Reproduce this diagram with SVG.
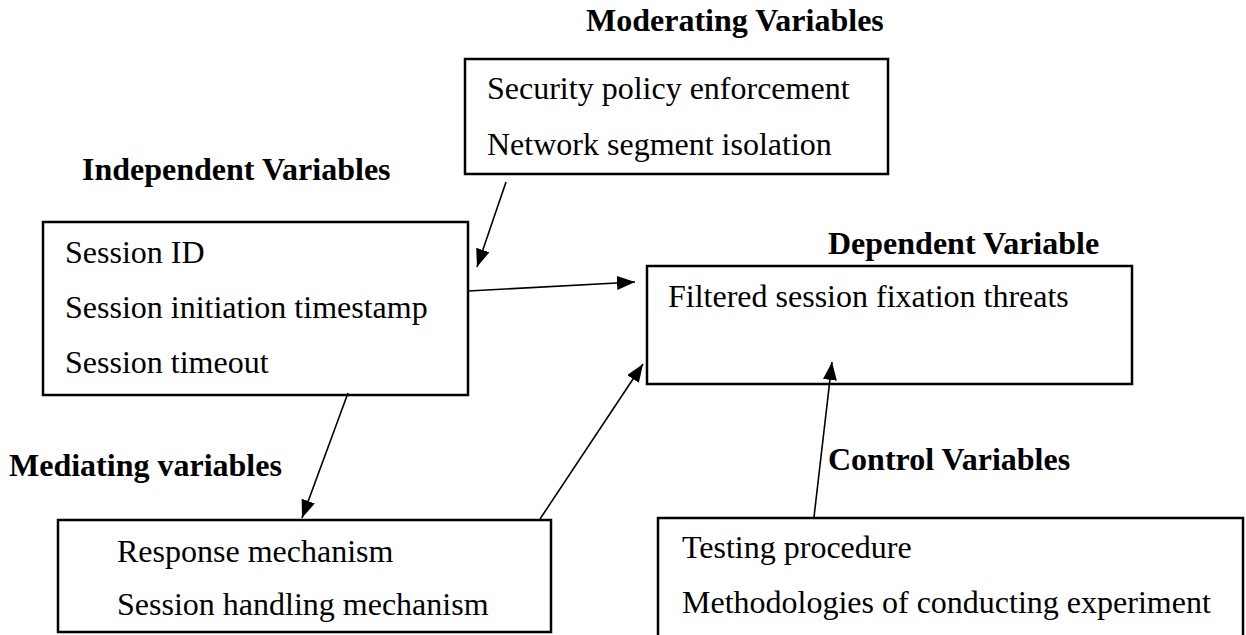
<svg xmlns="http://www.w3.org/2000/svg" width="1246" height="635" viewBox="0 0 1246 635">
  <style>
    .box { fill: #ffffff; stroke: #000000; stroke-width: 2.5; }
    .title { font-family: "Liberation Serif", "Times New Roman", serif; font-weight: bold; font-size: 32px; fill: #000000; }
    .item { font-family: "Liberation Serif", "Times New Roman", serif; font-size: 32px; fill: #000000; }
    .link { stroke: #000000; stroke-width: 1.6; fill: none; marker-end: url(#head); }
  </style>
  <defs>
    <marker id="head" viewBox="0 0 18 14" refX="18" refY="7" markerWidth="18" markerHeight="14" markerUnits="userSpaceOnUse" orient="auto">
      <path d="M0,0 L18,7 L0,14 Z" fill="#000000"/>
    </marker>
  </defs>
  <rect width="1246" height="635" fill="#ffffff"/>

  <!-- Moderating variables -->
  <g id="moderating">
    <text class="title" x="586" y="31">Moderating Variables</text>
    <rect class="box" x="465" y="59" width="423" height="115"/>
    <text class="item" x="487" y="99">Security policy enforcement</text>
    <text class="item" x="487" y="155">Network segment isolation</text>
  </g>

  <!-- Independent variables -->
  <g id="independent">
    <text class="title" x="82" y="180">Independent Variables</text>
    <rect class="box" x="43" y="222" width="425" height="173"/>
    <text class="item" x="65" y="263">Session ID</text>
    <text class="item" x="65" y="318">Session initiation timestamp</text>
    <text class="item" x="65" y="373">Session timeout</text>
  </g>

  <!-- Dependent variable -->
  <g id="dependent">
    <text class="title" x="828" y="254">Dependent Variable</text>
    <rect class="box" x="647" y="266" width="485" height="118"/>
    <text class="item" x="668" y="307">Filtered session fixation threats</text>
  </g>

  <!-- Mediating variables -->
  <g id="mediating">
    <text class="title" x="9" y="476">Mediating variables</text>
    <rect class="box" x="58" y="520" width="493" height="112"/>
    <text class="item" x="117" y="562">Response mechanism</text>
    <text class="item" x="117" y="615">Session handling mechanism</text>
  </g>

  <!-- Control variables -->
  <g id="control">
    <text class="title" x="828" y="470">Control Variables</text>
    <rect class="box" x="658" y="518" width="585" height="130"/>
    <text class="item" x="682" y="558">Testing procedure</text>
    <text class="item" x="682" y="613">Methodologies of conducting experiment</text>
  </g>

  <!-- Connectors -->
  <g id="connectors">
    <line class="link" x1="506" y1="182" x2="477" y2="267"/>
    <line class="link" x1="468" y1="291" x2="635" y2="282"/>
    <line class="link" x1="348" y1="393" x2="302" y2="518"/>
    <line class="link" x1="540" y1="519" x2="643" y2="364"/>
    <line class="link" x1="814" y1="517" x2="832" y2="362"/>
  </g>
</svg>
